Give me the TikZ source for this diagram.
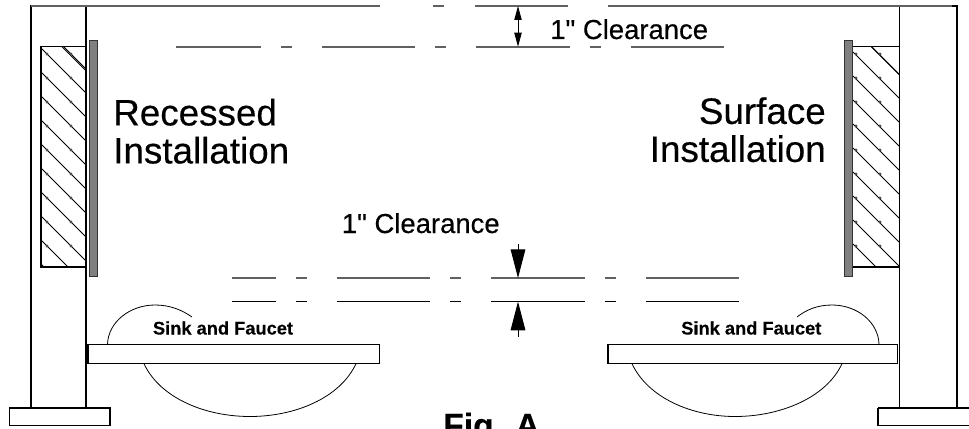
\documentclass[tikz,border=0pt]{standalone}
\usepackage{fontspec}
\setmainfont{Liberation Sans}
\newfontfamily\medfont[FakeBold=0.35]{Liberation Sans}
\newfontfamily\heavyfont[FakeBold=0.25]{Liberation Sans Bold}
\usetikzlibrary{arrows.meta}
\definecolor{panelgray}{gray}{0.5}
\definecolor{linegray}{gray}{0.38}
\tikzset{
  outline/.style={draw=black, line width=0.8pt},
  thinline/.style={draw=black, line width=0.6pt},
  grayline/.style={draw=linegray, line width=1.25pt},
  blackline/.style={draw=black, line width=0.85pt},
  panel/.style={draw=black!80, fill=panelgray, line width=0.6pt},
  bigtext/.style={inner sep=0pt, font=\fontsize{27.6}{28.5}\medfont},
  cleartext/.style={inner sep=0pt, anchor=base west, font=\fontsize{20.6}{24}\medfont},
  sinktext/.style={inner sep=0pt, anchor=base west, font=\fontsize{13.7}{16}\heavyfont},
  smallarrow/.style={draw=black, line width=0.7pt, {Triangle[length=10.5pt,width=5.5pt]}-{Triangle[length=10.5pt,width=5.5pt]}},
  bigarrow/.style={draw=black, line width=0.7pt, -{Triangle[length=21.5pt,width=11pt]}}
}
\begin{document}
\begin{tikzpicture}[x=0.75pt,y=-0.75pt]
\useasboundingbox (0,0) rectangle (969,428);

% hatched blocks
\begin{scope}
\clip (41,46.7) rectangle (86,267);
\foreach \s in {24,48,...,264} \draw[thinline] (41,\s) -- (86,\s+45);
\draw[thinline] (62,46.7) -- (86,70.7);
\foreach \s in {54,78,...,246} {
  \fill[black!70] (47,\s) circle (1.6);
  \fill[black!70] (71,\s) circle (1.6);
}
\end{scope}
\draw[outline] (41,46.7) rectangle (86,267);
\begin{scope}
\clip (853,46.7) rectangle (899.5,267);
\foreach \s in {28,52,...,268} \draw[thinline] (853,\s) -- (899.5,\s+46.5);
\draw[thinline] (871,46.7) -- (899.5,75.2);
\foreach \s in {54,78,...,246} {
  \fill[black!70] (856,\s) circle (1.6);
  \fill[black!70] (880,\s) circle (1.6);
}
\end{scope}
\draw[outline] (853,46.7) -- (899.5,46.7);
\draw[outline] (853,267) -- (899.5,267);

% panels
\node[panel, minimum width=0pt, inner sep=0pt, anchor=north west, minimum height=177pt, text width=6.2pt] (leftpanel) at (88.5,40) {};
\node[panel, minimum width=0pt, inner sep=0pt, anchor=north west, minimum height=177pt, text width=6.2pt] (rightpanel) at (844,40) {};

% walls and feet
\draw[outline] (31,408) -- (31,6) -- (86,6) -- (86,408);
\draw[outline] (899.5,408) -- (899.5,6) -- (957,6) -- (957,408);
\draw[outline] (9.5,408) rectangle (110,425.5);
\draw[outline] (878,408) -- (975,408);
\draw[outline] (975,425.5) -- (878,425.5) -- (878,408);

% top lines
\foreach \a/\b in {31/380,433/444,474.6/567.5,608/952} \draw[grayline, line width=1pt] (\a,6) -- (\b,6);
\foreach \a/\b in {176/260.7,281/292,322/415,435/446,476/570,590/600.7,631/724} \draw[grayline] (\a,46.7) -- (\b,46.7);

% lower lines
\foreach \a/\b in {231.8/275.7,295.7/306.5,336.6/429.8,450/461,491/585,604.5/616,645.7/739} {
  \draw[grayline] (\a,278) -- (\b,278);
  \draw[blackline] (\a,301.6) -- (\b,301.6);
}

% clearance arrows
\coordinate (topa) at (518,6);
\coordinate (topb) at (518,46.7);
\coordinate (lowa) at (518,244);
\coordinate (lowb) at (518,278);
\coordinate (lowc) at (518,337);
\coordinate (lowd) at (518,301.6);
\draw[smallarrow] (topa) -- (topb);
\draw[bigarrow] (lowa) -- (lowb);
\draw[bigarrow] (lowc) -- (lowd);

% sinks
\draw[outline] (88,344.5) rectangle (379.5,363.7);
\draw[thinline] (144,363.7) .. controls (160,398) and (205,416.5) .. (250,416.5) .. controls (295,416.5) and (340,398) .. (356,363.7);
\draw[thinline] (107.5,344.5) .. controls (108,322) and (130,305) .. (155,305) .. controls (170,305) and (182,310) .. (192,317);
\draw[outline] (608,344.5) rectangle (897.7,363.7);
\draw[thinline] (632,363.7) .. controls (648,398) and (692,416.5) .. (735,416.5) .. controls (780,416.5) and (826,398) .. (842,363.7);
\draw[thinline] (879,344.5) .. controls (878.5,322) and (857,305) .. (832,305) .. controls (817,305) and (806,310) .. (797,317);

% labels
\node[bigtext, anchor=north west, align=left] (recessed) at (113,98.5) {Recessed\\Installation};
\node[bigtext, anchor=north east, align=right] (surface) at (826,97) {Surface\\Installation};
\node[cleartext] (topclear) at (550,39) {1" Clearance};
\node[cleartext] (lowclear) at (341.6,233) {1" Clearance};
\node[sinktext] (leftsink) at (152.7,334.5) {Sink and Faucet};
\node[sinktext] (rightsink) at (681,334.5) {Sink and Faucet};
\node[inner sep=0pt, anchor=base west, font=\fontsize{25.2}{30}\heavyfont] (figa) at (443,437) {Fig. A};
\end{tikzpicture}
\end{document}
